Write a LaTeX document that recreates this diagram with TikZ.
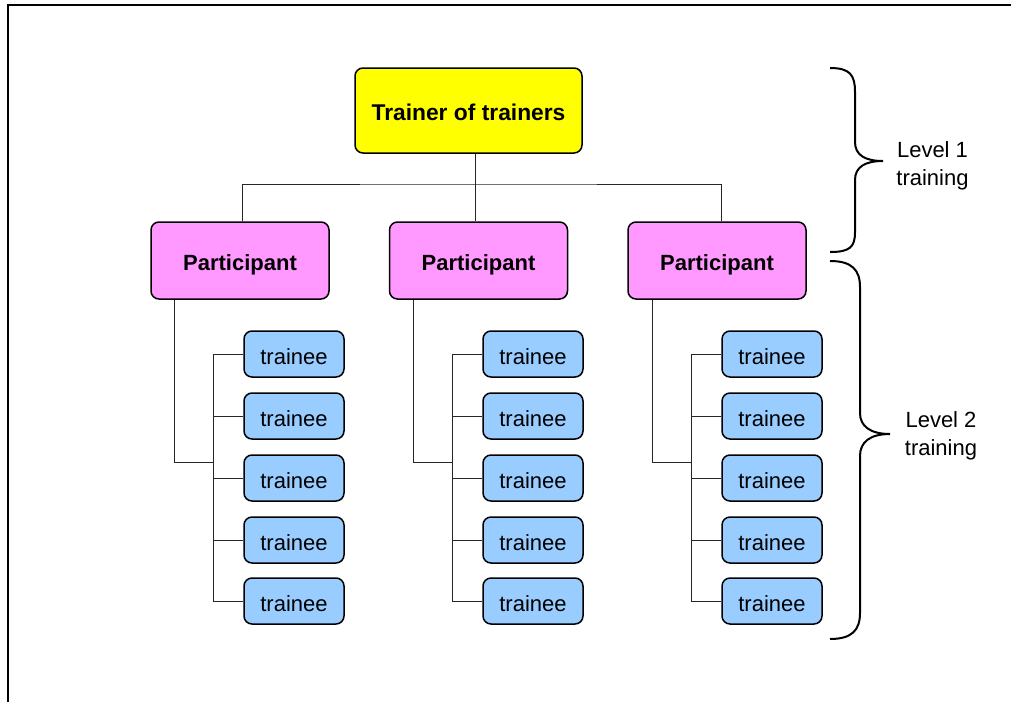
\documentclass[tikz,border=0pt]{standalone}
\usepackage{fontspec}
\setmainfont{Liberation Sans}
\usepackage{tikz}
\definecolor{tottop}{HTML}{FFFF00}
\definecolor{partpink}{HTML}{FF99FF}
\definecolor{traineeblue}{HTML}{99CCFF}
\tikzset{
  box/.style={draw, line width=0.75pt, rounded corners=4pt, text height=10pt, text depth=0pt, font=\fontsize{11}{13.6}\selectfont},
  tot/.style={box, fill=tottop, minimum width=113.5pt, minimum height=42.5pt, font=\fontsize{11.4}{13.6}\selectfont\bfseries},
  part/.style={box, fill=partpink, minimum width=89pt, minimum height=38.5pt, font=\fontsize{11}{13.6}\selectfont\bfseries},
  trn/.style={box, fill=traineeblue, minimum width=50pt, minimum height=23pt},
  conn/.style={line width=0.5pt, black!85},
  brace/.style={line width=1pt},
  lvl/.style={align=center, font=\fontsize{11}{13.8}\selectfont}
}

\begin{document}
\begin{tikzpicture}[x=0.5pt, y=-0.5pt]
    \useasboundingbox (0,0) rectangle (1011,702);
    \draw[line width=1pt] (8,702) -- (8,5) -- (1011,5);

    \node[tot] (top) at (468.5,110.5) {Trainer of trainers};
    \node[part] (p1) at (240,260.5) {Participant};
    \node[part] (p2) at (478.5,260.5) {Participant};
    \node[part] (p3) at (717,260.5) {Participant};

    \node[trn] (t11) at (294,354) {trainee};
    \node[trn] (t12) at (294,416) {trainee};
    \node[trn] (t13) at (294,478) {trainee};
    \node[trn] (t14) at (294,540) {trainee};
    \node[trn] (t15) at (294,601) {trainee};

    \node[trn] (t21) at (533,354) {trainee};
    \node[trn] (t22) at (533,416) {trainee};
    \node[trn] (t23) at (533,478) {trainee};
    \node[trn] (t24) at (533,540) {trainee};
    \node[trn] (t25) at (533,601) {trainee};

    \node[trn] (t31) at (772,354) {trainee};
    \node[trn] (t32) at (772,416) {trainee};
    \node[trn] (t33) at (772,478) {trainee};
    \node[trn] (t34) at (772,540) {trainee};
    \node[trn] (t35) at (772,601) {trainee};

    % level 1 links
    \coordinate (bus) at (475,184);
    \draw[conn] (bus |- top.south) -- (bus);
    \draw[conn] (p1.north -| 242,0) |- (bus) -| (p3.north -| 721,0);
    \draw[conn] (bus) -- (p2.north -| bus);

    % level 2 links
    \coordinate (j1) at (174,462);
    \coordinate (s1) at (213,462);
    \coordinate (j2) at (413,462);
    \coordinate (s2) at (452,462);
    \coordinate (j3) at (652,462);
    \coordinate (s3) at (691,462);
    \draw[conn] (p1.south -| j1) -- (j1) -- (s1);
    \draw[conn] (p2.south -| j2) -- (j2) -- (s2);
    \draw[conn] (p3.south -| j3) -- (j3) -- (s3);
    \draw[conn] (t11.west) -- (t11.west -| s1) -- (t15.west -| s1) -- (t15.west);
    \draw[conn] (t21.west) -- (t21.west -| s2) -- (t25.west -| s2) -- (t25.west);
    \draw[conn] (t31.west) -- (t31.west -| s3) -- (t35.west -| s3) -- (t35.west);
    \draw[conn] (t12.west -| s1) edge (t12.west) (t13.west -| s1) edge (t13.west) (t14.west -| s1) edge (t14.west);
    \draw[conn] (t22.west -| s2) edge (t22.west) (t23.west -| s2) edge (t23.west) (t24.west -| s2) edge (t24.west);
    \draw[conn] (t32.west -| s3) edge (t32.west) (t33.west -| s3) edge (t33.west) (t34.west -| s3) edge (t34.west);

    % braces
    \draw[brace] (830,68) .. controls (850,68) and (855,75) .. (855,92) -- (855,142)
        .. controls (855,155) and (865,161) .. (883,161)
        .. controls (865,161) and (855,167) .. (855,180) -- (855,232)
        .. controls (855,247) and (850,252) .. (830,252);
    \draw[brace] (830,261) .. controls (852,261) and (860,270) .. (860,287) -- (860,413)
        .. controls (860,426) and (870,434) .. (890,434)
        .. controls (870,434) and (860,442) .. (860,456) -- (860,613)
        .. controls (860,630) and (852,639) .. (830,639);

    \node[lvl] (lvl1) at (932.5,166) {Level 1\\training};
    \node[lvl] (lvl2) at (941,436) {Level 2\\training};
\end{tikzpicture}
\end{document}
